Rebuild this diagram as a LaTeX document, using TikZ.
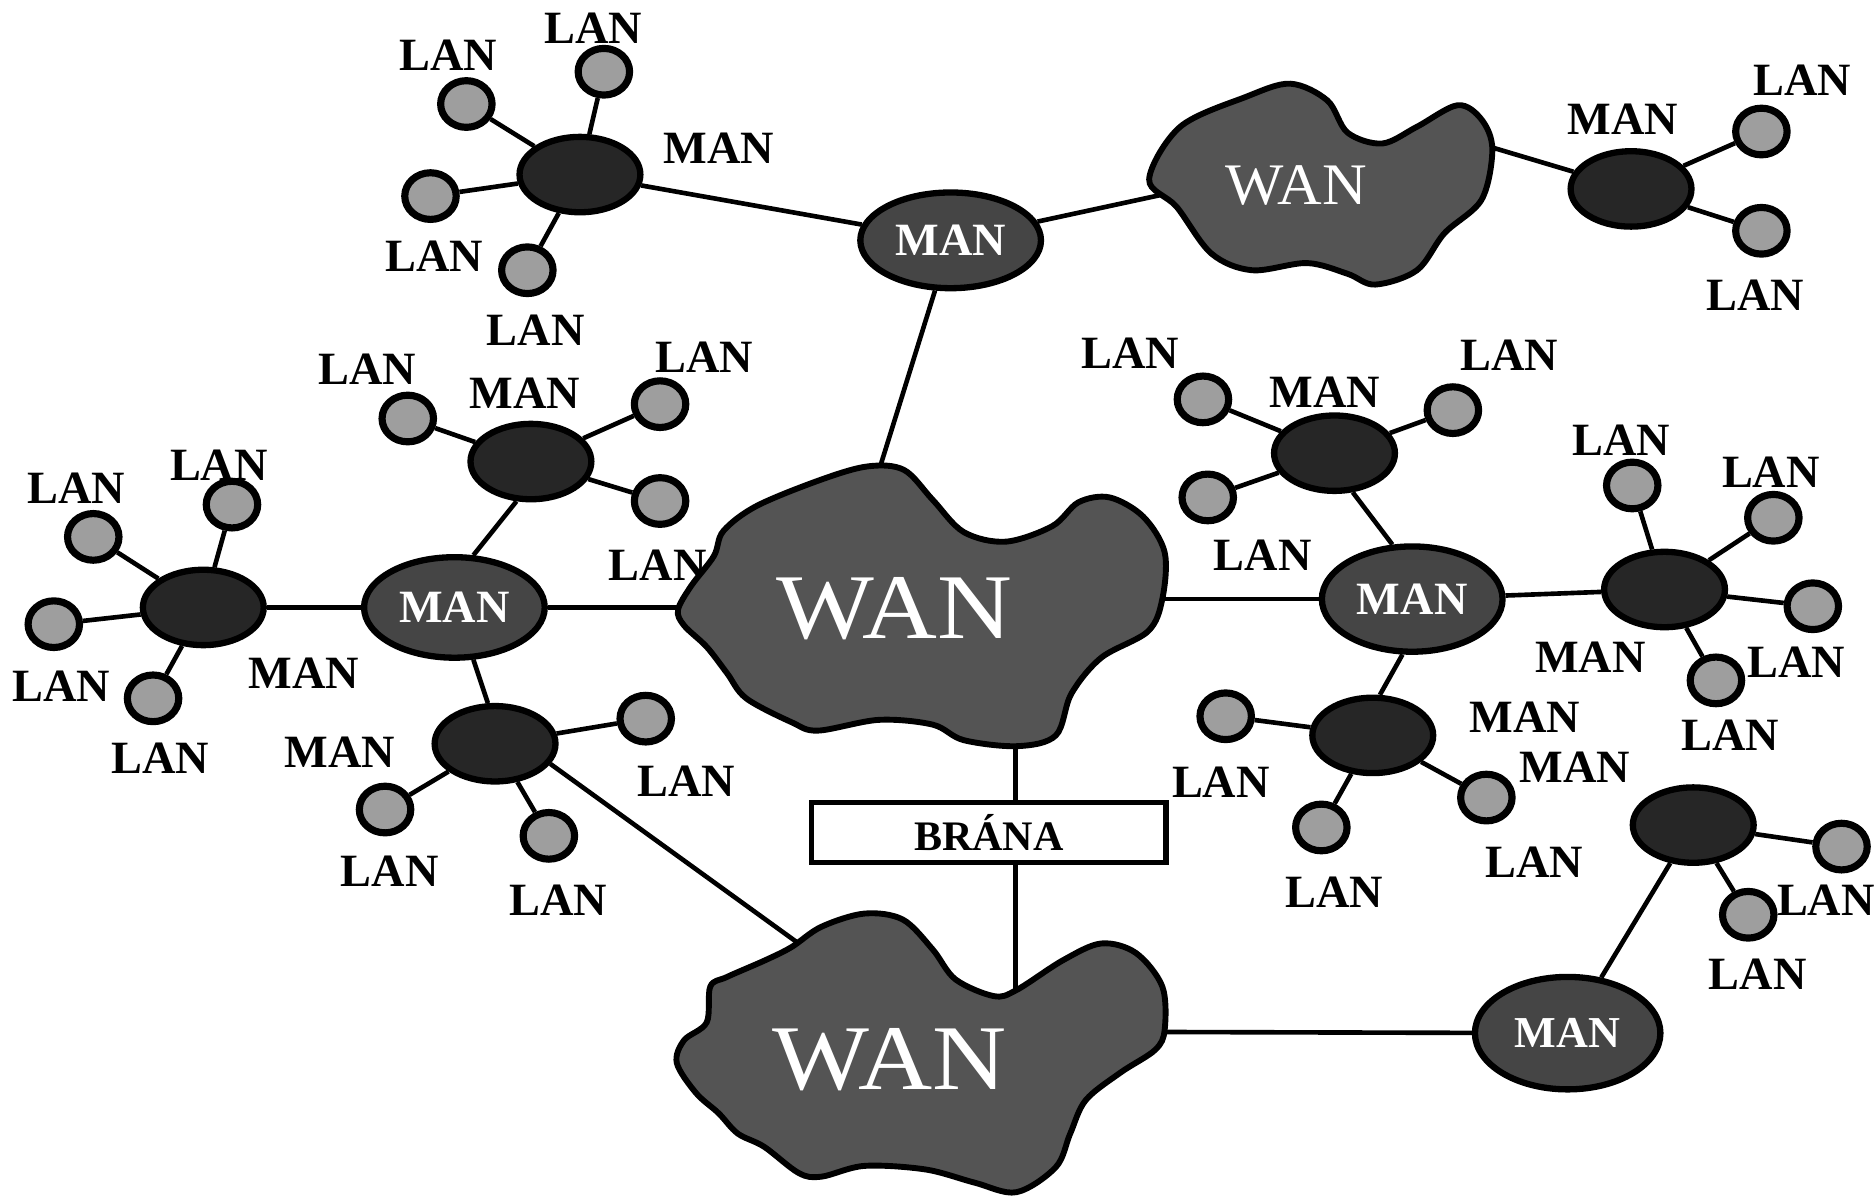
\documentclass[tikz,border=0pt]{standalone}
\usepackage{fontspec}
\setmainfont{Liberation Serif}
\usetikzlibrary{shapes.geometric}
\pgfdeclarelayer{bg}
\pgfsetlayers{bg,main}
\definecolor{lanfill}{gray}{0.62}
\definecolor{dmanfill}{gray}{0.15}
\definecolor{bmanfill}{gray}{0.27}
\definecolor{wanfill}{gray}{0.33}
\begin{document}
\begin{tikzpicture}[x=0.01cm,y=-0.01cm,
  lan/.style={ellipse,draw=black,line width=1.7pt,fill=lanfill,minimum width=0.43cm,minimum height=0.39cm,inner sep=0pt},
  dman/.style={ellipse,draw=black,line width=1.5pt,fill=dmanfill,minimum width=1.01cm,minimum height=0.63cm,inner sep=0pt},
  bman/.style={ellipse,draw=black,line width=1.5pt,fill=bmanfill,minimum width=1.51cm,minimum height=0.84cm,inner sep=0pt,text=white,font=\fontsize{11}{13}\selectfont\bfseries},
  lbl/.style={inner sep=0pt,font=\fontsize{11}{13}\selectfont\bfseries},
  wan/.style={draw=black,line width=1.4pt,fill=wanfill},
  wantext/.style={text=white,inner sep=0pt},
  link/.style={line width=1.1pt,draw=black},
  gatebox/.style={draw=black,line width=1.2pt,fill=white,minimum width=2.96cm,minimum height=0.50cm,inner sep=0pt,font=\fontsize{10}{12}\selectfont\bfseries}
]
\useasboundingbox (0,0) rectangle (1568,1004);

% ---------- labels ----------
\node[lbl] (a1) at (375,46) {LAN};
\node[lbl] (a2) at (496,24) {LAN};
\node[lbl] (a3) at (601,124) {MAN};
\node[lbl] (a4) at (363,214) {LAN};
\node[lbl] (a5) at (448,276) {LAN};
\node[lbl] (b1) at (1357,100) {MAN};
\node[lbl] (b2) at (1507,67) {LAN};
\node[lbl] (b3) at (1468,247) {LAN};
\node[lbl] (c1) at (307,309) {LAN};
\node[lbl] (c2) at (439,329) {MAN};
\node[lbl] (c3) at (589,299) {LAN};
\node[lbl] (c4) at (550,473) {LAN};
\node[lbl] (d1) at (64,408) {LAN};
\node[lbl] (d2) at (183,389) {LAN};
\node[lbl] (d3) at (51,574) {LAN};
\node[lbl] (d4) at (134,634) {LAN};
\node[lbl] (d5) at (254,563) {MAN};
\node[lbl] (e1) at (284,629) {MAN};
\node[lbl] (e2) at (574,653) {LAN};
\node[lbl] (e3) at (326,729) {LAN};
\node[lbl] (e4) at (467,753) {LAN};
\node[lbl] (f1) at (945,295) {LAN};
\node[lbl] (f2) at (1108,328) {MAN};
\node[lbl] (f3) at (1262,297) {LAN};
\node[lbl] (f4) at (1056,464) {LAN};
\node[lbl] (g1) at (1356,368) {LAN};
\node[lbl] (g2) at (1481,395) {LAN};
\node[lbl] (g3) at (1502,554) {LAN};
\node[lbl] (g4) at (1447,615) {LAN};
\node[lbl] (g5) at (1330,550) {MAN};
\node[lbl] (h1) at (1275,600) {MAN};
\node[lbl] (h2) at (1317,642) {MAN};
\node[lbl] (h3) at (1021,654) {LAN};
\node[lbl] (h4) at (1116,746) {LAN};
\node[lbl] (h5) at (1283,721) {LAN};
\node[lbl] (k1) at (1527,753) {LAN};
\node[lbl] (k2) at (1470,815) {LAN};

% ---------- WAN clouds ----------
\draw[wan] plot[smooth cycle, tension=0.55] coordinates {(961,150) (987,106) (1042,81) (1079,70) (1110,84) (1127,111) (1156,120) (1185,106) (1219,88) (1239,100) (1248,125) (1239,167) (1208,195) (1185,226) (1150,238) (1127,229) (1093,220) (1047,226) (1013,212) (984,173)};
\node[wantext,font=\fontsize{14}{16}\selectfont] (tw) at (1084,155) {\scalebox{1.05}[1]{WAN}};
\coordinate (twW) at (985,160);
\coordinate (twE) at (1240,121);

\draw[wan] plot[smooth cycle, tension=0.55] coordinates {(567,510) (578,490) (597,465) (605,444) (633,423) (687,401) (726,390) (756,393) (780,418) (806,445) (841,453) (880,440) (902,420) (928,416) (956,432) (974,462) (972,501) (960,528) (921,550) (896,580) (883,615) (851,624) (806,619) (780,606) (735,602) (684,611) (662,604) (624,584) (608,563) (591,541) (572,523)};
\node[wantext,font=\fontsize{22}{26}\selectfont] (cw) at (748,509) {\scalebox{1.12}[1]{WAN}};
\coordinate (cwN) at (733,400);
\coordinate (cwW) at (585,508);
\coordinate (cwE) at (960,501);
\coordinate (cwS) at (849,612);

\draw[wan] plot[smooth cycle, tension=0.55] coordinates {(662,792) (687,775) (723,764) (755,769) (780,794) (799,819) (831,833) (850,828) (889,803) (921,789) (950,797) (972,825) (974,861) (966,878) (937,897) (908,920) (895,948) (883,976) (850,997) (815,989) (774,978) (723,975) (687,984) (668,981) (639,959) (617,948) (601,931) (582,914) (566,889) (572,870) (591,855) (594,825) (608,817) (640,803)};
\node[wantext,font=\fontsize{22}{26}\selectfont] (bw) at (744,886) {\scalebox{1.11}[1]{WAN}};
\coordinate (bwN) at (849,840);
\coordinate (bwNW) at (690,805);
\coordinate (bwE) at (960,863);

% ---------- MAN and LAN nodes ----------
\node[dman] (tl) at (485,146) {};
\node[lan] (tl1) at (390,87) {};
\node[lan] (tl2) at (505,60) {};
\node[lan] (tl3) at (360,164) {};
\node[lan] (tl4) at (441,226) {};

\node[bman,minimum height=0.80cm] (tm) at (795,201) {MAN};

\node[dman] (tr) at (1364,158) {};
\node[lan] (tr1) at (1473,110) {};
\node[lan] (tr2) at (1473,193) {};

\node[bman] (lm) at (380,508) {MAN};

\node[dman] (fl) at (170,508) {};
\node[lan] (fl1) at (78,449) {};
\node[lan] (fl2) at (194,422) {};
\node[lan] (fl3) at (45,522) {};
\node[lan] (fl4) at (128,584) {};

\node[dman] (ul) at (444,386) {};
\node[lan] (ul1) at (341,350) {};
\node[lan] (ul2) at (552,338) {};
\node[lan] (ul3) at (552,419) {};

\node[dman] (ll) at (414,622) {};
\node[lan] (ll1) at (540,601) {};
\node[lan] (ll2) at (322,677) {};
\node[lan] (ll3) at (459,699) {};

\node[bman,minimum height=0.88cm] (rm) at (1181,501) {MAN};

\node[dman] (ur) at (1116,379) {};
\node[lan] (ur1) at (1006,334) {};
\node[lan] (ur2) at (1215,343) {};
\node[lan] (ur3) at (1010,416) {};

\node[dman] (fr) at (1392,493) {};
\node[lan] (fr1) at (1365,406) {};
\node[lan] (fr2) at (1483,433) {};
\node[lan] (fr3) at (1516,507) {};
\node[lan] (fr4) at (1435,569) {};

\node[dman] (lr) at (1148,615) {};
\node[lan] (lr1) at (1025,599) {};
\node[lan] (lr2) at (1243,667) {};
\node[lan] (lr3) at (1105,692) {};

\node[bman,minimum width=1.55cm,minimum height=0.94cm,font=\fontsize{10.5}{12}\selectfont\bfseries] (brm) at (1311,864) {MAN};

\node[dman] (br) at (1416,690) {};
\node[lan] (br1) at (1540,708) {};
\node[lan] (br2) at (1462,765) {};

\node[gatebox] (gate) at (827,696) {BRÁNA};

% ---------- connectors ----------
\begin{pgfonlayer}{bg}
\fill[white] (0,0) rectangle (1568,1004);
\draw[link] (tl) -- (tl1);
\draw[link] (tl) -- (tl2);
\draw[link] (tl) -- (tl3);
\draw[link] (tl) -- (tl4);
\draw[link] (tl) -- (tm);
\draw[link] (tm) -- (twW);
\draw[link] (twE) -- (tr);
\draw[link] (tr) -- (tr1);
\draw[link] (tr) -- (tr2);
\draw[link] (tm) -- (cwN);
\draw[link] (fl) -- (lm);
\draw[link] (fl) -- (fl1);
\draw[link] (fl) -- (fl2);
\draw[link] (fl) -- (fl3);
\draw[link] (fl) -- (fl4);
\draw[link] (lm) -- (cwW);
\draw[link] (lm.70) -- (ul.250);
\draw[link] (ul) -- (ul1);
\draw[link] (ul) -- (ul2);
\draw[link] (ul) -- (ul3);
\draw[link] (lm.-70) -- (ll.100);
\draw[link] (ll) -- (ll1);
\draw[link] (ll) -- (ll2);
\draw[link] (ll) -- (ll3);
\draw[link] (ll.-20) -- (bwNW);
\draw[link] (cwE) -- (rm);
\draw[link] (rm) -- (fr);
\draw[link] (fr) -- (fr1);
\draw[link] (fr) -- (fr2);
\draw[link] (fr) -- (fr3);
\draw[link] (fr) -- (fr4);
\draw[link] (rm.110) -- (ur.-65);
\draw[link] (ur) -- (ur1);
\draw[link] (ur) -- (ur2);
\draw[link] (ur) -- (ur3);
\draw[link] (rm.-100) -- (lr.80);
\draw[link] (lr) -- (lr1);
\draw[link] (lr) -- (lr2);
\draw[link] (lr) -- (lr3);
\draw[link] (cwS) -- (cwS |- gate.north);
\draw[link] (gate.south -| bwN) -- (bwN);
\draw[link] (bwE) -- (brm);
\draw[link] (brm) -- (br);
\draw[link] (br) -- (br1);
\draw[link] (br) -- (br2);
\end{pgfonlayer}
\end{tikzpicture}
\end{document}
